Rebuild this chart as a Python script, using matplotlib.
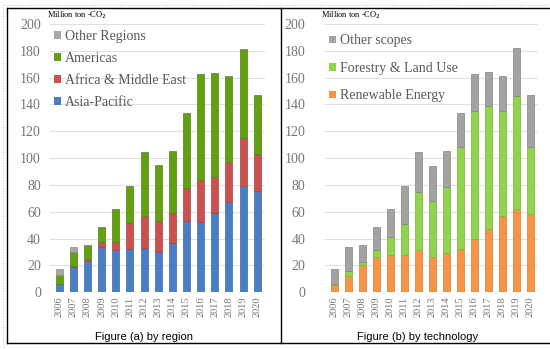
import matplotlib
matplotlib.use("Agg")
import matplotlib.pyplot as plt
from matplotlib.lines import Line2D
from matplotlib.patches import Patch, Rectangle
import numpy as np

# ── data (Million ton CO2) ────────────────────────────────────────────────
years = [str(y) for y in range(2006, 2021)]

# Figure (a) by region
asia_pacific = [6.5, 18.5, 23, 34, 31.5, 32.5, 33, 30, 36.5, 53, 52.5, 59, 67, 79, 75.5]
africa_me = [0, 1, 1.5, 3.5, 6, 19.5, 23.5, 23, 22.5, 25, 31, 27, 30, 36, 27.5]
americas = [6.5, 10.5, 10.5, 11.5, 24.5, 27, 48, 42, 46.5, 55.5, 79, 77.5, 64, 66.5, 44]
other_regions = [4.5, 3.5, 0, 0, 0, 0, 0, 0, 0, 0, 0, 0, 0, 0, 0]

# Figure (b) by technology
renewable = [5.5, 12.5, 20, 26.5, 27.5, 27.5, 31.5, 26, 29.5, 32, 40, 47, 56.5, 62, 58]
forestry = [1, 3, 2.5, 5, 14, 23.5, 43.5, 42, 49, 76, 95.5, 92, 79, 84.5, 50]
other_scopes = [11, 18, 12.5, 17.5, 20.5, 28, 29.5, 26.5, 27, 25.5, 27.5, 25, 26, 35.5, 39]

region_series = [
    ("Asia-Pacific", asia_pacific, "#4A7EC4", "#3A68A6"),
    ("Africa & Middle East", africa_me, "#C9514F", "#A8403E"),
    ("Americas", americas, "#62A012", "#4E830B"),
    ("Other Regions", other_regions, "#A8A8A8", "#8A8A8A"),
]
tech_series = [
    ("Renewable Energy", renewable, "#F79444", "#D97A2E"),
    ("Forestry & Land Use", forestry, "#8FD44A", "#74B634"),
    ("Other scopes", other_scopes, "#A3A3A3", "#838383"),
]

SERIF = ["Liberation Serif", "DejaVu Serif"]
GRAY = "#595959"
TICK_GRAY = "#767676"

fig = plt.figure(figsize=(5.5, 3.49), dpi=100)


def draw_panel(rect, series, legend_anchor, spacing, caption, caption_x, unit_x, ypad):
    ax = fig.add_axes(rect)
    x = np.arange(len(years))
    bottom = np.zeros(len(years))
    handles = []
    for name, vals, color, edge in series:
        vals = np.asarray(vals, dtype=float)
        ax.bar(x, vals, width=0.5, bottom=bottom, color=color,
               edgecolor=edge, linewidth=0.5, zorder=3)
        bottom += vals
        handles.append(Patch(facecolor=color, edgecolor="none", label=name))

    ax.set_ylim(0, 200)
    ax.set_xlim(-0.65, 14.55)
    ax.set_yticks(range(0, 201, 20))
    ax.set_xticks(x)
    ax.set_xticklabels(years, rotation=90)
    ax.grid(axis="y", color="#E0E0E0", lw=0.8, zorder=0)
    for s in ax.spines.values():
        s.set_visible(False)
    ax.tick_params(length=0, colors=TICK_GRAY)
    for lab in ax.get_yticklabels():
        lab.set_fontfamily(SERIF)
        lab.set_fontsize(10)
    for lab in ax.get_xticklabels():
        lab.set_fontfamily(SERIF)
        lab.set_fontsize(7.5)
    ax.tick_params(axis="y", pad=ypad)
    ax.tick_params(axis="x", pad=3)

    leg = ax.legend(handles=handles[::-1], loc="upper left",
                    bbox_to_anchor=legend_anchor, frameon=False,
                    prop={"family": SERIF, "size": 10},
                    handlelength=0.45, handleheight=0.45, handletextpad=0.3,
                    labelspacing=spacing, borderpad=0, borderaxespad=0)
    for t in leg.get_texts():
        t.set_color(GRAY)

    fig.text(unit_x, 0.955, "Million ton -CO$_2$", fontsize=6, family=SERIF,
             ha="left", va="center", color="black")
    fig.text(caption_x, 0.035, caption, fontsize=8, family="Liberation Sans",
             ha="center", va="center", color="black")
    return ax


draw_panel([0.0909, 0.1625, 0.3909, 0.7687], region_series, (0.02, 0.978), 0.65,
           "Figure (a) by region", 0.262, 0.085, 6.5)
draw_panel([0.5909, 0.1625, 0.3873, 0.7687], tech_series, (0.02, 0.962), 1.05,
           "Figure (b) by technology", 0.759, 0.583, 14)

# table-like frame around the two panels
frame = dict(color="black", lw=1.0, transform=fig.transFigure)
top, bot, left, mid = 1 - 8 / 349, 1 - 343 / 349, 7 / 550, 281 / 550
fig.add_artist(Line2D([left, 1], [top, top], **frame))
fig.add_artist(Line2D([left, 1], [bot, bot], **frame))
fig.add_artist(Line2D([left, left], [bot, top], **frame))
fig.add_artist(Line2D([mid, mid], [bot, top], **frame))
fig.add_artist(Rectangle((3 / 550, 0.0), 1.0, 1 - 5 / 349, fill=False,
                         ec="#C8C8C8", lw=0.8, ls=(0, (1, 1.5)),
                         transform=fig.transFigure))

fig.savefig("out.png", dpi=100)
